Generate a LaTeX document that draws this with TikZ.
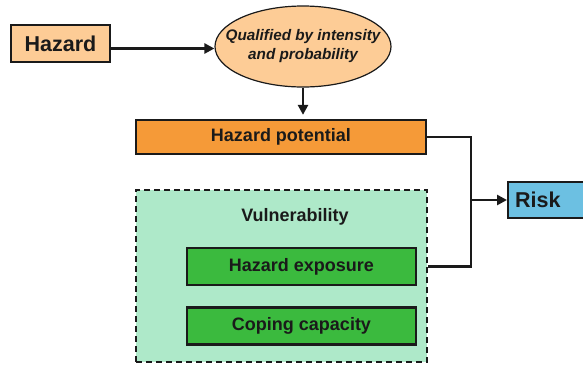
\documentclass[tikz,border=0pt]{standalone}
\usepackage{fontspec}
\setmainfont{Liberation Sans}
\usetikzlibrary{arrows.meta,shapes.geometric}
\definecolor{hazfill}{HTML}{FDCC96}
\definecolor{potfill}{HTML}{F59A38}
\definecolor{riskfill}{HTML}{6CC0E2}
\definecolor{vulfill}{HTML}{AEE9C9}
\definecolor{grnfill}{HTML}{3BBA3E}
\definecolor{ink}{HTML}{1A1A1A}
\tikzset{
  box/.style={draw=ink, line width=2.3pt, inner sep=0pt, text=ink},
  conn/.style={draw=ink, line width=2.8pt, -{Triangle[length=10pt,width=10pt]}},
  plain/.style={draw=ink, line width=2.8pt},
  fbig/.style={font=\bfseries\fontsize{21.5}{24}\selectfont},
  fmid/.style={font=\bfseries\fontsize{18}{21}\selectfont},
}
\begin{document}
\begin{tikzpicture}[x=1pt,y=-1pt]
\useasboundingbox (0,0) rectangle (583,365);
\clip (0,0) rectangle (583,365);
\node[box, fbig, fill=hazfill, minimum width=99pt, minimum height=37pt] (haz) at (60.5,43.5) {Hazard};
\node[ellipse, draw=ink, line width=1.2pt, fill=hazfill, inner sep=0pt, minimum width=176pt, minimum height=81pt] (ell) at (303,46.5) {};
\node[align=center, text=ink, inner sep=0pt, font=\bfseries\itshape\fontsize{15.3}{19}\selectfont] (elltext) at (ell.center) {Qualified by intensity\\and probability};
\node[box, fmid, fill=potfill, minimum width=290pt, minimum height=34pt] (pot) at (281,137) {Hazard potential};
\node[draw=ink, line width=1.6pt, dash pattern=on 6pt off 4pt, fill=vulfill, minimum width=291pt, minimum height=172pt, inner sep=0pt] (vul) at (281.5,276) {};
\node[fmid, text=ink, inner sep=0pt] (vlab) at (295,217) {Vulnerability};
\node[box, fmid, fill=grnfill, minimum width=229pt, minimum height=37pt] (hexp) at (301.5,266.5) {Hazard exposure};
\node[box, fmid, fill=grnfill, minimum width=229pt, minimum height=37pt] (cope) at (301.5,326) {Coping capacity};
\node[box, fbig, fill=riskfill, anchor=west, text width=86pt, inner xsep=7pt, minimum height=36pt, align=left] (risk) at (507,200) {Risk};
\coordinate (j) at (471,200);
\coordinate (hstart) at ([yshift=-5pt]haz.east);
\draw[conn] (hstart) -- (hstart -| ell.west);
\draw[conn, shorten >=4pt] (ell.south) -- (ell.south |- pot.north);
\draw[plain] (pot.east) -| (j);
\draw[plain] (vul.east |- hexp.east) -| (j);
\draw[conn] (j) -- (risk.west);
\end{tikzpicture}
\end{document}
